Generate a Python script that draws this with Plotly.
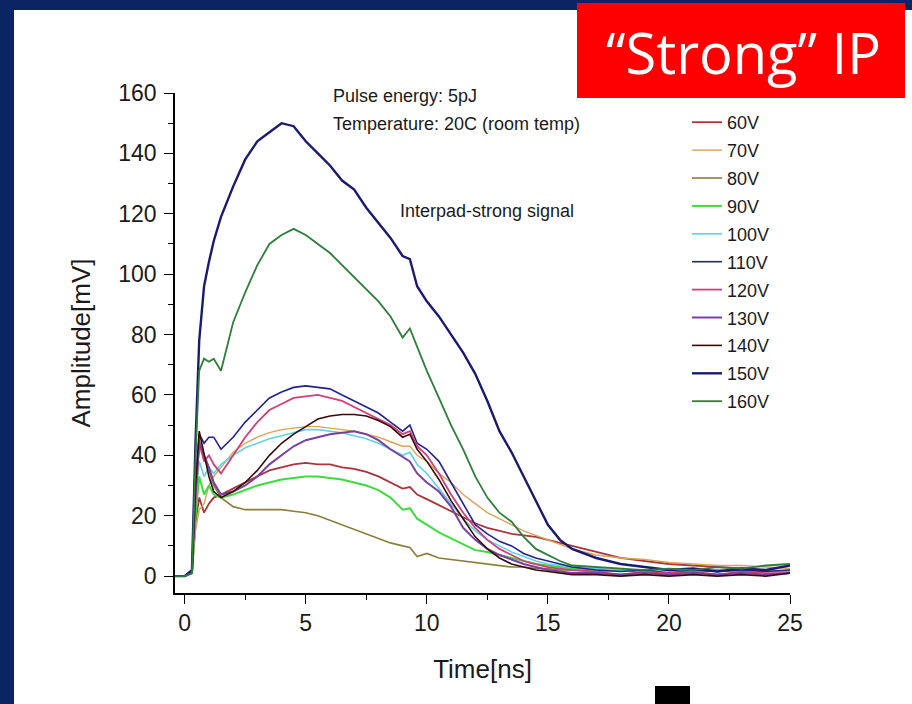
import plotly.graph_objects as go

# ---------------- data ----------------
time_ns = [-0.4, 0.0, 0.3, 0.45, 0.6, 0.8, 1.0, 1.2, 1.5, 2.0, 2.5, 3.0, 3.5, 4.0, 4.5,
           5.0, 5.5, 6.0, 6.5, 7.0, 7.5, 8.0, 8.5, 9.0, 9.3, 9.6, 10.0, 10.5, 11.0, 11.5,
           12.0, 12.5, 13.0, 13.5, 14.0, 14.5, 15.0, 15.5, 16.0, 17.0, 18.0, 19.0, 20.0,
           21.0, 22.0, 23.0, 24.0, 25.0]

v60 = [0, 0, 1, 18, 26, 21, 24, 26, 27, 29, 31, 33, 35, 36, 37,
       37.5, 37, 37, 36, 35.5, 34.5, 33, 31, 29, 29.5, 27, 25.5, 23.5, 21.5, 19.5,
       17.5, 16, 15, 14, 13.5, 13, 12, 11, 10, 8, 6, 5, 4,
       3.5, 3, 2.5, 2, 1.5]
v70 = [0, 0, 1, 15, 22, 24, 30, 33, 36, 41, 44, 46, 47.5, 48.5, 49,
       49.5, 49.5, 49, 48.5, 48, 47, 46, 44.5, 43, 43, 40, 38, 34, 31, 27,
       24, 21, 19, 17, 15, 13.5, 12, 10.5, 9, 7, 6, 5.5, 4.5,
       4, 3.5, 3.5, 3, 2.5]
v80 = [0, 0, 1, 25, 45, 40, 35, 30, 26, 23, 22, 22, 22, 22, 21.5,
       21, 20, 18.5, 17, 15.5, 14, 12.5, 11, 10, 9.5, 6.5, 7.5, 6, 5.5, 5,
       4.5, 4, 3.5, 3, 3, 2.5, 2.5, 2, 2, 1.5, 2, 1.5, 2,
       1.5, 2, 1.5, 2, 1.5]
v90 = [0, 0, 1, 20, 33, 27, 30, 27, 26, 27, 28.5, 30, 31, 32, 32.5,
       33, 33, 32.5, 32, 31, 30, 28.5, 26, 22, 22.5, 19, 17, 14.5, 12.5, 10.5,
       8.6, 8, 7, 6, 5, 4, 3.5, 3, 2.5, 2, 2, 1.5, 2,
       1.5, 2, 1.5, 2, 1.5]
v100 = [0, 0, 1, 25, 38, 33, 36, 34, 37, 40, 42.5, 44, 45.5, 46.5, 47.5,
        48.5, 48.5, 48, 47.5, 46.5, 45.5, 44, 42, 40, 41, 37, 34, 29, 24, 19,
        15, 12, 10, 8, 6.5, 5, 4, 3.5, 3, 2.5, 2, 2, 1.5,
        2, 1.5, 2, 1.5, 2]
v110 = [0, 0, 2, 30, 47, 44, 46, 46, 42, 46, 51, 55, 59, 61, 62.5,
        63, 62.5, 62, 60, 58, 56, 54, 51, 48, 50, 44, 42, 38, 31, 24,
        17, 14, 11.5, 10, 7.5, 6, 5, 4, 3, 2, 1.5, 2, 1,
        2, 1.5, 2, 1.5, 2]
v120 = [0, 0, 1, 25, 44, 38, 40, 37, 34, 40, 46, 51, 55, 57, 59,
        59.5, 60, 59, 58, 56, 54, 52, 50, 47, 48, 43, 40, 34, 27, 21,
        16, 12, 9, 7, 5, 4, 3, 2.5, 2, 1.5, 0.5, 1.5, 1,
        1.5, 0.5, 1.5, 1, 1]
v130 = [0, 0, 1, 28, 44, 40, 36, 31, 27, 28, 30, 33, 37, 40, 43,
        45, 46, 47, 47.5, 48, 47, 45, 42, 39.5, 38, 34, 31, 28, 23, 16,
        12, 9, 7, 5.5, 4, 3, 2, 1.5, 1, 1, 0.5, 1, 0.5,
        1, 0.5, 1, 0.5, 1]
v140 = [0, 0, 2, 30, 48, 40, 33, 28, 26, 28, 31, 35, 40, 44, 47,
        49.5, 52, 53, 53.5, 53.5, 53, 51.5, 49.5, 46, 47, 42, 38, 32, 25, 19,
        13, 9, 6, 4, 3, 2, 1.5, 1, 0.5, 0.5, 0, 0.5, 0,
        0.5, 0, 0.5, 0, 1]
v150 = [0, 0, 2, 45, 78, 96, 104, 111, 119, 129, 138, 144, 147, 150, 149,
        144, 140, 136, 131, 128, 122, 117, 112, 106, 105, 96, 91, 86, 80, 74,
        67, 58, 48, 41, 33, 25, 17, 12, 9, 6, 4, 3, 2,
        2.5, 1.5, 2.5, 2, 3.5]
v160 = [0, 0, 1, 40, 68, 72, 71, 72, 68, 84, 94, 103, 110, 113, 115,
        113, 110, 107, 103, 99, 95, 91, 86, 79, 82, 76, 68, 59, 50, 42,
        33, 26, 21, 18, 13, 9, 7, 5, 3.5, 3, 2.5, 2, 2.5,
        2, 3, 2.5, 3.5, 4]

series_names = ["60V", "70V", "80V", "90V", "100V", "110V", "120V", "130V", "140V", "150V", "160V"]
series_values = [v60, v70, v80, v90, v100, v110, v120, v130, v140, v150, v160]

x_ticks = [0, 5, 10, 15, 20, 25]
y_ticks = [0, 20, 40, 60, 80, 100, 120, 140, 160]

# ---------------- styling ----------------
colors = ["#a8353a", "#d9a35a", "#8b7d3a", "#3ddc3d", "#5fd3e0", "#23238f",
          "#d23f78", "#7a3fa0", "#3a0a0a", "#1a1a70", "#2f7d3a"]
widths = [1.8, 1.4, 1.6, 2.0, 1.6, 1.6, 1.8, 2.0, 1.6, 2.4, 1.8]

NAVY = "#0b2463"
W, H = 912, 704
L, R, T, B = 175, 790, 93, 593   # plot area in pixels


def px_x(p):
    return (p - L) / (R - L)


def px_y(p):
    return (B - p) / (B - T)


fig = go.Figure()
for name, vals, c, w in zip(series_names, series_values, colors, widths):
    fig.add_trace(go.Scatter(x=time_ns, y=vals, mode="lines", name=name,
                             legendgroup=name,
                             line=dict(color=c, width=w)))

axis_font = dict(family="Liberation Sans, Arial, sans-serif", size=23, color="#1a1a1a")
title_font = dict(family="Liberation Sans, Arial, sans-serif", size=26, color="#1a1a1a")

fig.update_layout(
    width=W, height=H,
    margin=dict(l=L, r=W - R, t=T, b=H - B, pad=0),
    paper_bgcolor=NAVY,
    plot_bgcolor="white",
    showlegend=True,
    legend=dict(x=px_x(687), y=px_y(104), xanchor="left", yanchor="top",
                bgcolor="rgba(0,0,0,0)", borderwidth=0,
                font=dict(family="Liberation Sans, Arial, sans-serif", size=18, color="#1a1a1a"),
                tracegroupgap=1.5, itemwidth=30),
    xaxis=dict(range=[-0.4, 25], tickvals=x_ticks, ticks="outside", ticklen=9,
               tickwidth=1.3, tickcolor="black", showline=True, linecolor="black",
               linewidth=1.5, showgrid=False, zeroline=False, tickfont=axis_font,
               minor=dict(dtick=2.5, tick0=0, ticks="outside", ticklen=5, tickcolor="black",
                          showgrid=False),
               title=dict(text="Time[ns]", font=title_font, standoff=24)),
    yaxis=dict(range=[-5.6, 160], tickvals=y_ticks, ticks="outside", ticklen=9,
               tickwidth=1.3, tickcolor="black", showline=True, linecolor="black",
               linewidth=1.5, showgrid=False, zeroline=False, tickfont=axis_font,
               ticklabelstandoff=3,
               minor=dict(dtick=10, tick0=0, ticks="outside", ticklen=5, tickcolor="black",
                          showgrid=False),
               title=dict(text="Amplitude[mV]", font=title_font, standoff=20)),
)

# white slide area, red title box, black square
fig.add_shape(type="rect", xref="paper", yref="paper", layer="below",
              x0=px_x(14), x1=px_x(W + 2), y0=px_y(10), y1=px_y(H + 2),
              fillcolor="white", line=dict(width=0))
fig.add_shape(type="rect", xref="paper", yref="paper", layer="above",
              x0=px_x(577), x1=px_x(905), y0=px_y(3), y1=px_y(98),
              fillcolor="#ff0000", line=dict(width=0))
fig.add_shape(type="rect", xref="paper", yref="paper", layer="above",
              x0=px_x(655), x1=px_x(690), y0=px_y(686), y1=px_y(H + 2),
              fillcolor="black", line=dict(width=0))

fig.add_annotation(text="“Strong” IP", xref="paper", yref="paper",
                   x=px_x(743), y=px_y(52), xanchor="center", yanchor="middle",
                   showarrow=False,
                   font=dict(family="Open Sans, Noto Sans, sans-serif", size=56, color="white"))

note_font = dict(family="Liberation Sans, Arial, sans-serif", size=18, color="#1a1a1a")
fig.add_annotation(text="Pulse energy: 5pJ", xref="paper", yref="paper",
                   x=px_x(331), y=px_y(96), xanchor="left", yanchor="middle",
                   showarrow=False, font=note_font)
fig.add_annotation(text="Temperature: 20C (room temp)", xref="paper", yref="paper",
                   x=px_x(331), y=px_y(124), xanchor="left", yanchor="middle",
                   showarrow=False, font=note_font)
fig.add_annotation(text="Interpad-strong signal", xref="paper", yref="paper",
                   x=px_x(398), y=px_y(211), xanchor="left", yanchor="middle",
                   showarrow=False, font=note_font)

page_js = ("document.body.style.margin='0';"
           "document.body.style.padding='0';"
           "document.body.style.overflow='hidden';"
           "document.body.style.background='" + NAVY + "';")
fig.write_html("out.html", post_script=page_js, config={"displayModeBar": False})
